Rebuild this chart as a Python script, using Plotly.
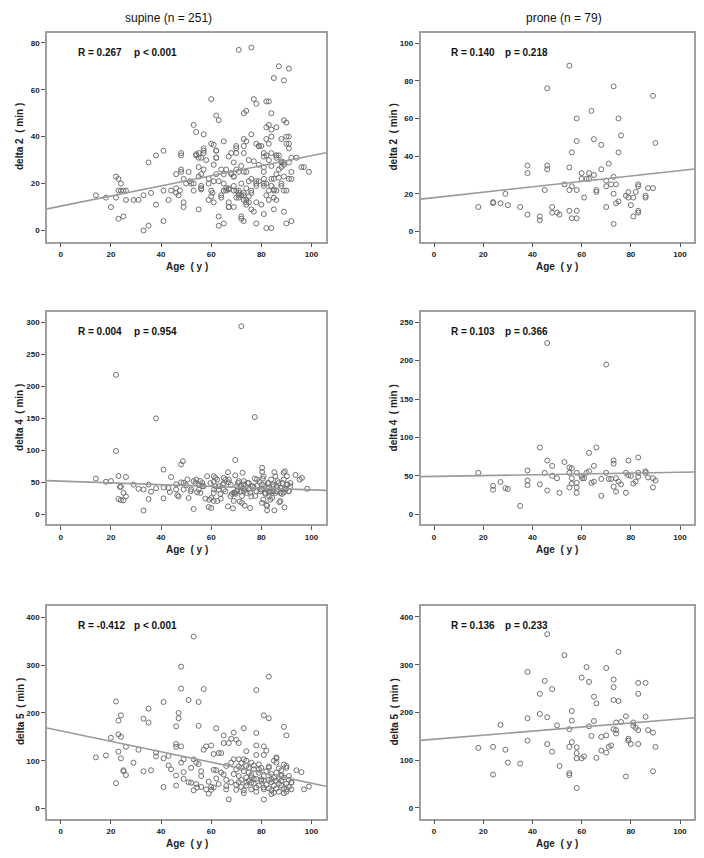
import plotly.graph_objects as go

# ---------------- data (age, minutes) ----------------
supine_d2 = [(14,15),(18,14),(20,10),(22,23),(23,22),(22,14),(23,17),(24,20),(24,17),(25,17),(26,17),(26,13),(23,5),(25,6),
 (29,13),(31,13),(33,15),(33,0),(35,2),(35,29),(36,16),(38,11),(38,32),(41,34),(41,17),(41,4),(43,13),(44,17),(46,16),(46,24),
 (46,18),(47,15),(47.5,17),(48,33),(48,32),(48,26),(48,25),(49,22),(49,12),(49,10),(50,20),(51,25),(51.5,21),(52,20),(53,45),
 (53,17),(54,42),(54,32),(55,33),(55,31),(55,27),(55,9),(56,19),(56,24),(56,18),(57,34),(57,41),(57,35),(58,30),(59,13),(59,20),
 (60,56),(60,37),(60,17),(60.5,16),(61,28),(61,12),(61,21),(62,49),(62,34),(62,31),(62,24),(63,47),(63,6),(63,2),(64,15),(64,14),
 (65,38),(65,17),(65,3),(66,26),(66,17),(67,18),(67,12),(67,10),(68,33),(68,24),(69,23),(69,17),(69,10),(70,36),(70,35),(70,33),
 (70,26),(70,14),(71,77),(71,25),(71,17),(71,15),(72,20),(72,15),(72,6),(72,5),(73,50),(73,39),(73,36),(73,33),(73,25),(73,16),
 (73,4),(74,51),(74,38),(74,25),(74,18),(74,13),(74,11),(75,30),(75,21),(75,12),(76,78),(76,41),(76,22),(76,16),(77,56),(77,8),
 (78,54),(78,37),(78,21),(78,20),(78,12),(78,3),(79,36),(79,28),(80,36),(80,11),(81,33),(81,27),(81,25),(81,20),(81,19),(81,7),
 (82,55),(82,44),(82,32),(82,15),(82,1),(83,55),(83,45),(83,37),(83,30),(83,17),(83,13),(84,50),(84,43),(84,33),(84,22),(84,1),
 (85,65),(85,22),(85,17),(85,14),(86,44),(86,32),(86,31),(86,24),(86,17),(86,13),(87,70),(87,32),(87,26),(88,39),(88,29),(88,27),
 (88,19),(89,64),(89,47),(89,28),(89,8),(89,17),(90,46),(90,40),(90,37),(90,17),(90,3),(91,69),(91,40),(91,37),(91,35),(91,29),
 (92,31),(92,25),(92,22),(92,4),(94,31),(96,27),(97,27),(99,25),
 (53,20),(55,23),(54,32.5),(56,31),(57,33),(61,36.5),(62,34),(62,31),(63,21),(64,26),(65,24),(65,20),(66,18),(67,17.5),(68,24.5),
 (69,23),(69,19),(70,17),(71,16),(71,14),(73,15),(73,13),(74,12),(75,14.5),(76,17),(78,19),(79,21),(81,22),(82,20),(84,19),
 (85,17.5),(87,22.5),(88,20),(89,23),(91,22),(79,36),(82,39),(84,40),(86,32),(88,29.5),(89,29),(81,31.5),(84,27.5),(77,29.5),
 (72,27.5),(69,29),(67,31.5),(57,26),(59,22),(56,17.5),(60,14.5),(67,10),(76,9),(85,9)]

prone_d2 = [(18,13),(24,15.6),(24,15.1),(27,15),(29,20),(30,14),(35,13),(38,35),(38,31),(38,9),(43,8),(43,6),(45,22),(46,76),
 (46,35),(46,33),(48,13),(48,10),(50,10),(51,9),(53,25),(55,88),(55,34),(55,22),(55,11),(56,24),(56,42),(56,7),(58,60),(58,48),
 (58,22),(58,11),(58,7),(60,31),(60,28),(61,18),(62,28),(63,31),(63,28),(64,64),(65,49),(65,30),(66,22),(66,21),(68,46),(68,33),
 (70,27),(70,24),(70,13),(71,36),(72,25),(73,77),(73,29),(73,20),(73,4),(74,25),(74,15),(75,42),(75,16),(75,60),(76,51),(78,19),
 (79,21),(79,18),(80,14),(81,8),(81,18),(82,21),(83,25),(83,24),(83,11),(83,10),(86,19),(86,18),(87,23),(89,72),(89,23),(90,47)]

supine_d4 = [(14,56),(18,51),(20,52),(22,218),(22,99),(23,60),(23,24),(23.6,43),(24,43),(24,22.5),(25,22),(25,33.5),(26,58.5),
 (26,28),(29,46.5),(31,40),(33,39),(33,6),(35,46.5),(35,24),(36,35.5),(38,150),(38,41),(41,70),(41,42),(41,25),(43,41),(43.5,35),
 (44,58.5),(46,47),(46,39),(46.5,30),(47,28),(48,78),(48.7,83),(48,50),(49,49),(49,39),(50,45.5),(51,25.6),(52,39),(53,8.4),
 (53,52),(54,54.4),(54.4,34.5),(55,46.5),(55.6,52),(55.7,33.5),(56.4,49),(57,44),(57.7,24.6),(59,11.5),(59.2,23),(60,10),(60,25.6),
 (61,59.6),(61,51),(61,33.5),(61,21),(61.7,44),(62.4,54.4),(63,38.7),(63.8,24.6),(64.7,46.5),(65,57),(65.7,54.4),(66.7,66),
 (66.7,12.5),(67,50),(67.8,46.5),(68.3,32),(68.7,9.4),(69.6,85),(69.6,61),(69.4,33.5),(69.8,32),(70.5,38.7),(70.7,49),(71.4,20),
 (72,294),(72,44),(72.5,65),(72.7,41.3),(73.1,52),(73.4,13.6),(74.1,33.5),(74.5,49),(75,39.7),(75.5,10),(76,28),(76.6,44),
 (77.4,152),(77.4,56),(78,36),(78.4,45),(79.3,50.7),(80,38.7),(80.3,72.7),(80.3,66.4),(80.6,56),(80.8,23),(81.2,44),(81.6,33.5),
 (82,15),(82.3,6.3),(82.6,49),(83,41.3),(83.2,28),(83.6,23),(83.9,54.4),(84.3,36),(84.7,46.5),(85.2,66),(85.2,6.3),(85.6,33.5),
 (86,44),(86.5,52),(87.2,19),(87.6,33.5),(88.2,41.3),(88.5,49),(88.9,65),(89.2,11),(89.4,67.4),(89.8,39.7),(90.2,59.6),
 (90.5,46.5),(91,36.6),(91.6,49),(93.6,61.7),(95.3,54.4),(96.2,57),(98.3,40),
 (50.5,54.4),(51.8,36),(53.8,49),(55.1,38.8),(56.4,44),(58.4,59.6),(59.7,49),(61.1,38.8),(61.7,57),(63.1,44),(63.7,32),(65,49),
 (65.7,36),(67,54.4),(67.7,28.7),(69,34),(70.3,44),(71,52),(71.7,36),(72.3,28.7),(73,46.7),(73.6,38.8),(75,49),(75.6,34),
 (77,41.4),(77.6,28.7),(78.3,54.4),(79.6,36),(80.3,46.7),(80.9,59.6),(81.6,32),(82.3,41.4),(82.9,49),(83.6,36),(84.3,26),
 (84.9,44),(85.6,59.6),(86.2,36),(86.9,49),(87.6,41.4),(88.2,32),(88.9,54.4),(89.6,38.8),(90.2,46.7),(90.9,36),(91.5,44),
 (72.3,18),(80.3,18),(82.3,13.4),(87.6,20.8),(69,21),(62.4,21),(70.3,36),(84.9,36),(73,36),(82.9,34),(80.3,38.8),(65,38.8),
 (76.3,44),(88.9,34)]

prone_d4 = [(18,54),(24,37),(24,32),(27,42),(29,34),(30,33),(35,11),(38,57),(38,44),(38,38),(43,87),(43,39),(45,54),(46,223),
 (46,70),(46,31),(48,63),(48,50),(50,47),(51,28),(53,68),(55,61),(55,54),(55,35),(56,60),(56,47),(56,40),(58,54),(58,41),(58,35),
 (58,28),(60,50),(60.2,47),(61,47),(62,54),(63,80),(63,56),(64,41),(65,42.5),(65,63),(66,87),(68,24),(68,46),(70,54),(70,195),
 (71,46),(72,46),(73,70),(73,66),(73,36),(74,47),(74,29.5),(75,42.5),(76,39),(78,54),(78,28),(79,70),(79,51),(80,50),(81,40),
 (82,42.5),(83,74),(83,54),(83,49),(86,56),(86,54),(87,48),(89,47),(89,35),(90,44)]

supine_d5 = [(14,107),(18,111),(20,148),(22,224),(22,53),(23,119),(23,184),(23,155),(24,150),(24,195),(24,105),(25,80),(25,78),
 (26,129),(26,70),(29,96),(31,123),(33,188),(33,78),(35,209),(35,180),(36,80),(38,117),(38,109),(41,223),(41,105),(41,45),
 (43,110),(43,90),(44,82),(46,172),(46,135),(46,129),(46,69),(46,48),(47,200),(47,189),(48,297),(48,251),(48,130),(48,96),
 (49,103),(49,76),(49,62),(51,227),(51,55),(52,85),(52,54),(53,360),(53,103),(53,38),(54,96),(54,51),(54.4,44),(55,223),(55,173),
 (55,93),(56,68),(56,78),(56,45),(57,250),(57,123),(58,130),(59,31),(59,56),(60,132),(60,39),(61,81),(61,44),(61,114),(62,63),
 (62,168),(63,51),(63,116),(64,116),(65,153),(65,137),(65,71),(66,89),(66,40),(67,137),(67,19),(68,146),(68,96),(69,159),(69,103),
 (70,144),(70,82),(70,39),(71,137),(71,103),(71,68),(72,85),(73,168),(73,103),(73,32),(74,120),(74,89),(74,54),(75,75),(76,96),
 (76,54),(77,82),(78,248),(78,158),(78,132),(78,112),(78,44),(79,82),(80,61),(81,195),(81,130),(81,112),(81,44),(81,19),(82,121),
 (83,276),(83,189),(83,85),(84,61),(85,33),(86,96),(86,107),(87,84),(88,68),(89,171),(89,92),(90,153),(90,89),(90,40),(91,68),
 (92,54),(94,80),(96,76),(97,40),(99,46),
 (70,50),(71,88),(72,60),(72,45),(73,78),(73,38),(74,65),(74,48),(75,85),(75,58),(76,70),(76,40),(77,52),(77,90),(78,62),(78,35),
 (79,75),(79,48),(80,85),(80,58),(81,40),(81,68),(82,50),(82,78),(83,60),(83,42),(84,72),(84,55),(84,38),(85,65),(85,48),(86,58),
 (86,75),(86,42),(87,52),(87,62),(87,35),(88,48),(88,70),(88,58),(89,42),(89,65),(90,52),(90,85),(90,35),(91,60),(91,45),(92,55),
 (92,40),(83,88),(85,100),(86,105),(79,92),(77,62),(74,100),(72,95),(69,72),(68,55),(66,60),(64,75),(62,80),(60,45),(58,40),
 (66,47),(71,55),(76,65),(81,58),(88,80),(89,32),(84,30)]

prone_d5 = [(18,126),(24,128),(24,70),(27,174),(29,122),(30,95),(35,93),(38,285),(38,188),(38,141),(43,239),(43,197),(45,266),
 (46,364),(46,190),(46,134),(48,249),(48,118),(50,173),(51,88),(53,320),(55,165),(55,128),(55,73),(55,69),(56,203),(56,183),
 (56,138),(58,127),(58,115),(58,104),(58,42),(60,273),(60,104),(61,108),(62,295),(63,171),(63,264),(64,151),(65,233),(65,182),
 (66,219),(66,105),(68,149),(68,120),(70,293),(70,152),(70,116),(71,128),(72,131),(73,269),(73,253),(73,226),(73,165),(74,179),
 (74,163),(74,156),(75,327),(75,224),(76,180),(78,192),(78,66),(79,145),(79,141),(80,134),(81,179),(81,172),(82,168),(83,262),
 (83,239),(83,163),(83,134),(86,262),(86,191),(87,163),(89,158),(89,77),(90,128)]

# fit lines: (intercept, slope)
fits = {"supine_d2": (10.4, 0.215), "prone_d2": (18.0, 0.1435),
        "supine_d4": (52.0, -0.137), "prone_d4": (49.3, 0.054),
        "supine_d5": (162.6, -1.096), "prone_d5": (144.0, 0.425)}
stats = {"supine_d2": ("R = 0.267", "p < 0.001"), "prone_d2": ("R = 0.140", "p = 0.218"),
         "supine_d4": ("R = 0.004", "p = 0.954"), "prone_d4": ("R = 0.103", "p = 0.366"),
         "supine_d5": ("R = -0.412", "p < 0.001"), "prone_d5": ("R = 0.136", "p = 0.233")}
y_titles = {"d2": "delta 2  ( min )", "d4": "delta 4  ( min )", "d5": "delta 5  ( min )"}
col_titles = ["supine (n = 251)", "prone (n = 79)"]

# ---------------- layout geometry ----------------
# page pixel positions (704x858 window); the page body has an 8px margin
OFF = 8
W, H = 704 - 2 * OFF, 858 - 2 * OFF
cols = [(47, 326), (420.5, 694.3)]
rows = [(32.5, 241.5), (311.5, 524.3), (605.5, 818.5)]
x_range = [-5.5, 105.8]
y_specs = {
    ("supine", "d2"): ([-4.7, 84.4], 20, 80),
    ("prone", "d2"): ([-5.3, 105.6], 20, 100),
    ("supine", "d4"): ([-15.5, 317], 50, 300),
    ("prone", "d4"): ([-13, 264], 50, 250),
    ("supine", "d5"): ([-21, 425], 100, 400),
    ("prone", "d5"): ([-22, 424], 100, 400),
}
panels = [("supine", "d2", supine_d2), ("prone", "d2", prone_d2),
          ("supine", "d4", supine_d4), ("prone", "d4", prone_d4),
          ("supine", "d5", supine_d5), ("prone", "d5", prone_d5)]


def px(v):
    return (v - OFF) / W


def py(v):
    return 1 - (v - OFF) / H


FONT = "Liberation Sans, Arial, sans-serif"
fig = go.Figure()
annotations = []

for i, (grp, var, pts) in enumerate(panels):
    r, c = divmod(i, 2)
    n = i + 1
    xa = "xaxis" if n == 1 else f"xaxis{n}"
    ya = "yaxis" if n == 1 else f"yaxis{n}"
    xr = "x" if n == 1 else f"x{n}"
    yr = "y" if n == 1 else f"y{n}"
    x0, x1 = cols[c]
    t0, t1 = rows[r]
    yrange, dtick, ymax = y_specs[(grp, var)]
    xs = [p[0] for p in pts]
    ys = [p[1] for p in pts]
    fig.add_trace(go.Scatter(x=xs, y=ys, mode="markers", xaxis=xr, yaxis=yr, showlegend=False,
                             marker=dict(symbol="circle-open", size=5, color="#707070",
                                         line=dict(width=1, color="#707070"))))
    b0, b1 = fits[f"{grp}_{var}"]
    lx = [x_range[0], x_range[1]]
    fig.add_trace(go.Scatter(x=lx, y=[b0 + b1 * v for v in lx], mode="lines", xaxis=xr, yaxis=yr,
                             showlegend=False, line=dict(color="#9a9a9a", width=1.6)))
    fig.layout[xa] = dict(domain=[px(x0), px(x1)], anchor=yr, range=x_range, tickvals=list(range(0, 101, 20)),
                          ticks="outside", ticklen=4, tickcolor="#555", showline=True, linecolor="#a0a0a0",
                          linewidth=1.5, mirror=True, showgrid=False, zeroline=False,
                          tickfont=dict(family=FONT, size=8, color="#222", weight="bold"))
    fig.layout[ya] = dict(domain=[py(t1), py(t0)], anchor=xr, range=yrange,
                          tickvals=list(range(0, ymax + 1, dtick)),
                          ticks="outside", ticklen=4, tickcolor="#555", showline=True, linecolor="#a0a0a0",
                          linewidth=1.5, mirror=True, showgrid=False, zeroline=False,
                          tickfont=dict(family=FONT, size=8, color="#222", weight="bold"))
    rtxt, ptxt = stats[f"{grp}_{var}"]
    for txt, fx in ((rtxt, 0.103), (ptxt, 0.303)):
        annotations.append(dict(text=f"<b>{txt}</b>", xref=f"{xr} domain", yref=f"{yr} domain",
                                x=fx, y=0.905, xanchor="left", yanchor="middle", showarrow=False,
                                font=dict(family=FONT, size=10, color="#111")))
    # axis titles
    annotations.append(dict(text="<b>Age  ( y )</b>", xref="paper", yref="paper",
                            x=px((x0 + x1) / 2), y=py(t1 + 25), xanchor="center", yanchor="middle",
                            showarrow=False, font=dict(family=FONT, size=10, color="#222")))
    annotations.append(dict(text=f"<b>{y_titles[var]}</b>", xref="paper", yref="paper",
                            x=px(x0 - 27), y=py((t0 + t1) / 2), xanchor="center", yanchor="middle",
                            textangle=-90, showarrow=False, font=dict(family=FONT, size=10, color="#222")))

for c, ttl in enumerate(col_titles):
    cx = [168, 564][c]
    annotations.append(dict(text=ttl, xref="paper", yref="paper", x=px(cx), y=py(OFF + 1),
                            xanchor="center", yanchor="top", showarrow=False,
                            font=dict(family=FONT, size=12, color="#111")))

fig.update_layout(width=W, height=H, margin=dict(l=0, r=0, t=0, b=0),
                  paper_bgcolor="white", plot_bgcolor="white", annotations=annotations)
fig.write_html("out.html")
